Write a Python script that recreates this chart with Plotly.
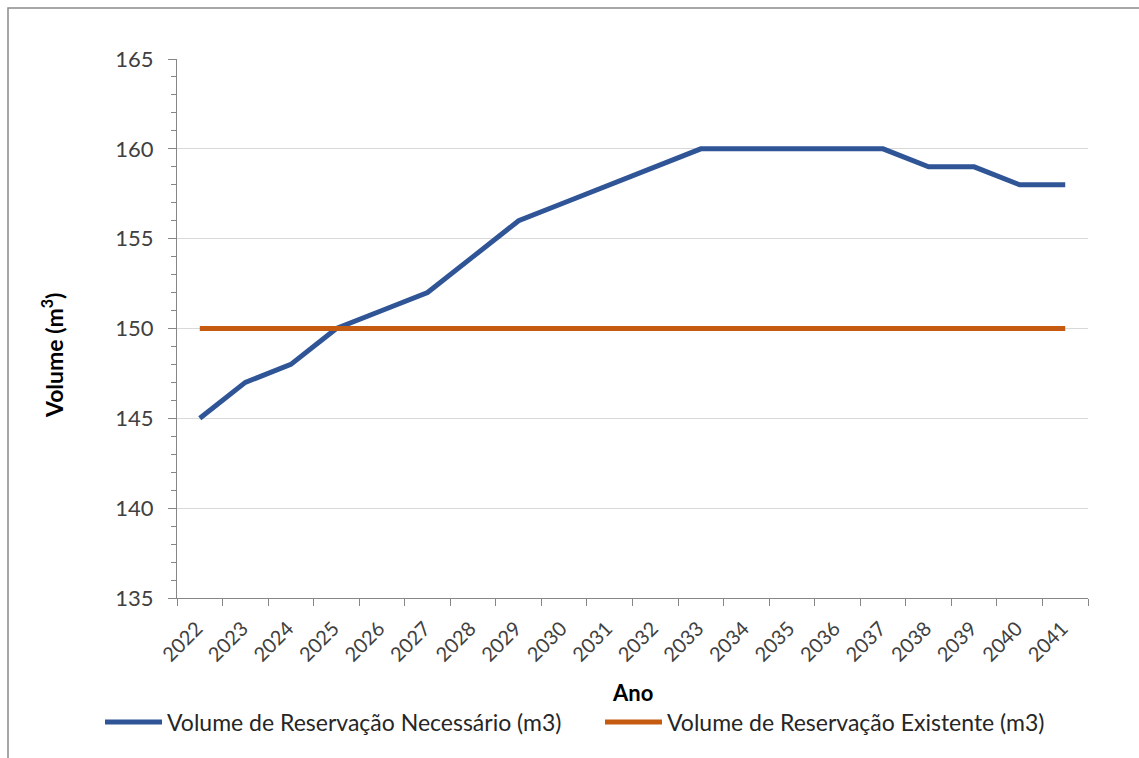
import plotly.graph_objects as go

anos = [str(a) for a in range(2022, 2042)]
necessario = [145, 147, 148, 150, 151, 152, 154, 156, 157, 158, 159, 160, 160, 160, 160, 160, 159, 159, 158, 158]
existente = [150] * 20

nome_nec = "Volume de Reservação Necessário (m3)"
nome_exi = "Volume de Reservação Existente (m3)"

W, H = 1139, 758
L, R, T, B = 177, 51, 59, 160
pw, ph = W - L - R, H - T - B

def px(x):
    return (x - L) / pw

def py(y):
    return (H - B - y) / ph

FONT = "Lato"

fig = go.Figure()
fig.add_trace(go.Scatter(x=anos, y=necessario, mode="lines", name=nome_nec,
                         line=dict(color="#2F5597", width=5), legend="legend"))
fig.add_trace(go.Scatter(x=anos, y=existente, mode="lines", name=nome_exi,
                         line=dict(color="#C55A11", width=5), legend="legend2"))

leg_common = dict(orientation="h", xanchor="left", y=py(722), yanchor="middle",
                  font=dict(size=23, color="#262626", family=FONT),
                  itemwidth=57, bgcolor="rgba(0,0,0,0)")

fig.update_layout(
    width=W, height=H,
    margin=dict(l=L, r=R, t=T, b=B),
    paper_bgcolor="white", plot_bgcolor="white",
    font=dict(family=FONT, color="#404040"),
    showlegend=True,
    legend=dict(x=px(100), **leg_common),
    legend2=dict(x=px(600), **leg_common),
)
fig.update_xaxes(type="category", range=[-0.5, len(anos) - 0.5],
                 tickson="boundaries", ticks="outside", ticklen=7,
                 tickcolor="#868686", showline=True, linecolor="#868686", linewidth=1,
                 showgrid=False, tickangle=-45, ticklabelshift=-3, ticklabelstandoff=10,
                 tickfont=dict(size=20, color="#404040", family=FONT))
fig.update_yaxes(range=[135, 165], dtick=5, tick0=135, ticks="outside", ticklen=8,
                 tickcolor="#868686", showline=True, linecolor="#868686", linewidth=1,
                 showgrid=True, gridcolor="#d9d9d9", gridwidth=1, zeroline=False,
                 ticklabelstandoff=10,
                 minor=dict(dtick=1, ticks="outside", ticklen=5, tickcolor="#868686", showgrid=False),
                 tickfont=dict(size=22, color="#404040", family=FONT))

fig.add_annotation(x=px(52), y=py(355), xref="paper", yref="paper",
                   xanchor="center", yanchor="middle",
                   text="<b>Volume (m<sup>3</sup>)</b>", textangle=-90, showarrow=False,
                   font=dict(size=23, color="#000000", family=FONT))
fig.add_annotation(x=0.5, y=py(692), xref="paper", yref="paper",
                   xanchor="center", yanchor="middle",
                   text="<b>Ano</b>", showarrow=False,
                   font=dict(size=22, color="#000000", family=FONT))

fig.add_shape(type="rect", xref="paper", yref="paper",
              x0=px(8), x1=px(1160), y0=py(790), y1=py(8),
              line=dict(color="#8a8a8a", width=1.5), fillcolor="rgba(0,0,0,0)", layer="below")

fig.write_html("out.html", config={"displayModeBar": False},
               post_script="document.body.style.margin='0';document.body.style.overflow='hidden';")
